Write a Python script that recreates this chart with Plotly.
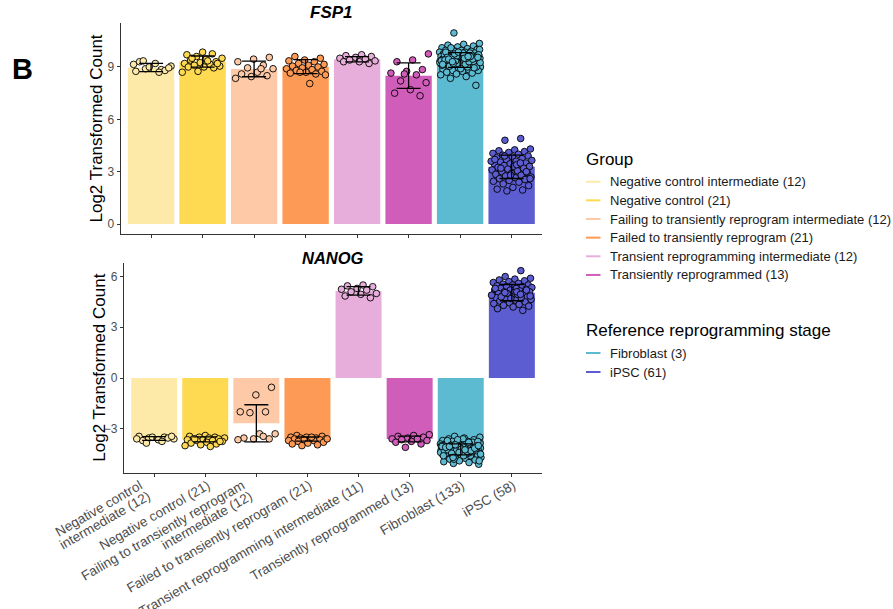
import plotly.graph_objects as go

# ---- categories -------------------------------------------------------------
groups = [
    "Negative control intermediate (12)",
    "Negative control (21)",
    "Failing to transiently reprogram intermediate (12)",
    "Failed to transiently reprogram (21)",
    "Transient reprogramming intermediate (12)",
    "Transiently reprogrammed (13)",
]
stages = ["Fibroblast (3)", "iPSC (61)"]
tick_labels = [
    ["Negative control", "intermediate (12)"],
    ["Negative control (21)"],
    ["Failing to transiently reprogram", "intermediate (12)"],
    ["Failed to transiently reprogram (21)"],
    ["Transient reprogramming intermediate (11)"],
    ["Transiently reprogrammed (13)"],
    ["Fibroblast (133)"],
    ["iPSC (58)"],
]
colors = ["#FEEAA8", "#FED952", "#FEC9A6", "#FD9A55",
          "#E8AEDB", "#D05DB9", "#5CBAD1", "#5D5DD2"]

# ---- FSP1 -------------------------------------------------------------------
fsp1_mean = [8.97, 9.31, 8.89, 9.02, 9.44, 8.50, 9.40, 3.28]
fsp1_sd = [0.24, 0.32, 0.45, 0.40, 0.15, 0.73, 0.42, 0.67]
fsp1_nci = [8.75, 8.85, 8.9, 9.05, 9.2, 9.3, 8.8, 9.0, 9.15, 8.7, 9.35, 8.95]
fsp1_nc = [9.85, 9.7, 9.75, 9.6, 9.5, 9.45, 9.4, 9.3, 9.25, 9.2, 9.15, 9.1,
           9.05, 9.0, 9.0, 8.95, 8.75, 8.7, 9.35, 9.5, 9.2]
fsp1_faili = [9.55, 9.45, 9.3, 9.1, 8.95, 8.9, 8.7, 8.6, 8.5, 8.45, 8.35, 8.9]
fsp1_failed = [9.6, 9.5, 9.4, 9.35, 9.3, 9.2, 9.15, 9.1, 9.05, 9.0, 8.95, 8.9,
               8.85, 8.8, 8.75, 8.7, 8.65, 8.6, 8.7, 8.55, 8.05]
fsp1_tri = [9.7, 9.65, 9.6, 9.55, 9.5, 9.45, 9.4, 9.35, 9.3, 9.3, 9.2]
fsp1_tr = [9.75, 9.4, 9.3, 8.85, 8.75, 8.65, 8.55, 8.2, 8.1, 7.7, 7.5, 7.35, 8.6]
fsp1_fib = [
    10.95, 10.35, 10.3, 10.25, 10.2, 10.15, 10.1, 10.05, 10.0, 10.0,
    9.95, 9.95, 9.9, 9.9, 9.85, 9.85, 9.8, 9.8, 9.8, 9.75,
    9.75, 9.7, 9.7, 9.7, 9.65, 9.65, 9.65, 9.6, 9.6, 9.6,
    9.55, 9.55, 9.55, 9.5, 9.5, 9.5, 9.5, 9.45, 9.45, 9.45,
    9.45, 9.4, 9.4, 9.4, 9.4, 9.35, 9.35, 9.35, 9.35, 9.3,
    9.3, 9.3, 9.3, 9.25, 9.25, 9.25, 9.2, 9.2, 9.2, 9.15,
    9.15, 9.15, 9.1, 9.1, 9.1, 9.05, 9.05, 9.0, 9.0, 9.0,
    8.95, 8.95, 8.9, 8.9, 8.85, 8.85, 8.8, 8.8, 8.75, 8.7,
    8.65, 8.6, 8.55, 8.45, 8.35, 7.95, 9.6, 9.7, 9.8, 9.9,
    10.0, 9.5, 9.4, 9.3, 9.2, 9.1, 9.0, 9.55, 9.65, 9.75,
    9.85, 9.45, 9.35, 9.25, 9.15, 9.05, 9.5, 9.6, 9.4, 9.3,
    9.2, 9.7, 9.8, 9.55, 9.45, 9.65, 9.35, 9.5, 10.1, 9.0,
    8.9, 9.4, 9.6, 9.75, 9.25, 9.5, 9.45, 8.95, 9.85, 9.15,
    9.6, 9.3, 9.55,
]
fsp1_ipsc = [
    4.9, 4.8, 4.3, 4.25, 4.2, 4.15, 4.1, 4.05, 4.0, 3.95,
    3.9, 3.85, 3.8, 3.75, 3.7, 3.65, 3.6, 3.55, 3.5, 3.45,
    3.45, 3.4, 3.35, 3.3, 3.3, 3.25, 3.2, 3.15, 3.1, 3.05,
    3.0, 2.95, 2.9, 2.85, 2.8, 2.75, 2.7, 2.65, 2.6, 2.55,
    2.5, 2.45, 2.4, 2.3, 2.2, 2.1, 2.0, 1.95, 1.9, 3.6,
    3.4, 3.2, 3.0, 2.8, 3.7, 3.5, 3.9, 2.6,
]

# ---- NANOG ------------------------------------------------------------------
nanog_mean = [-3.58, -3.63, -2.68, -3.61, 5.15, -3.61, -4.22, 5.05]
nanog_sd = [0.11, 0.15, 1.10, 0.12, 0.25, 0.17, 0.33, 0.48]
nanog_nci = [-3.45, -3.5, -3.55, -3.6, -3.65, -3.7, -3.55, -3.5, -3.6, -3.75,
             -3.85, -3.45]
nanog_nc = [-3.4, -3.45, -3.5, -3.5, -3.55, -3.55, -3.6, -3.6, -3.65, -3.65,
            -3.7, -3.7, -3.75, -3.8, -3.85, -3.9, -3.95, -4.0, -4.05, -3.6,
            -3.75]
nanog_faili = [-0.55, -1.0, -2.0, -2.0, -2.05, -3.3, -3.3, -3.55, -3.6, -3.6,
               -3.65, -3.45]
nanog_failed = [-3.4, -3.45, -3.5, -3.5, -3.55, -3.55, -3.6, -3.6, -3.6,
                -3.65, -3.65, -3.7, -3.7, -3.75, -3.8, -3.85, -3.9, -3.95,
                -4.0, -3.6, -3.5]
nanog_tri = [5.5, 5.45, 5.4, 5.3, 5.25, 5.2, 5.1, 5.0, 4.95, 4.85, 4.75]
nanog_tr = [-3.35, -3.4, -3.45, -3.5, -3.55, -3.6, -3.6, -3.65, -3.7, -3.75,
            -3.8, -3.9, -4.1]
nanog_fib = [
    -3.45, -3.5, -3.55, -3.6, -3.65, -3.7, -3.7, -3.75, -3.75, -3.8,
    -3.8, -3.85, -3.85, -3.9, -3.9, -3.9, -3.95, -3.95, -3.95, -4.0,
    -4.0, -4.0, -4.0, -4.05, -4.05, -4.05, -4.05, -4.1, -4.1, -4.1,
    -4.1, -4.1, -4.15, -4.15, -4.15, -4.15, -4.2, -4.2, -4.2, -4.2,
    -4.2, -4.25, -4.25, -4.25, -4.25, -4.3, -4.3, -4.3, -4.3, -4.35,
    -4.35, -4.35, -4.35, -4.4, -4.4, -4.4, -4.45, -4.45, -4.45, -4.5,
    -4.5, -4.5, -4.55, -4.55, -4.6, -4.6, -4.65, -4.65, -4.7, -4.7,
    -4.75, -4.8, -4.85, -4.9, -4.95, -5.0, -5.05, -5.1, -3.6, -3.7,
    -3.8, -3.9, -4.0, -4.1, -4.2, -4.3, -4.4, -4.5, -4.6, -4.7,
    -3.85, -3.95, -4.05, -4.15, -4.25, -4.35, -4.45, -4.55, -3.75, -4.0,
    -4.1, -4.2, -4.3, -4.4, -4.5, -4.0, -4.2, -4.1, -4.3, -3.9,
    -4.8, -4.9, -4.6, -4.25, -4.15, -3.65, -4.05, -4.35, -4.45, -4.0,
    -4.2, -4.1, -4.3, -3.95, -4.5, -4.25, -4.05, -4.15, -4.4, -4.6,
    -3.8, -4.7, -4.0,
]
nanog_ipsc = [
    6.35, 6.0, 5.9, 5.85, 5.8, 5.75, 5.7, 5.65, 5.6, 5.55,
    5.5, 5.5, 5.45, 5.4, 5.4, 5.35, 5.3, 5.3, 5.25, 5.2,
    5.2, 5.15, 5.1, 5.1, 5.05, 5.0, 5.0, 4.95, 4.9, 4.9,
    4.85, 4.8, 4.8, 4.75, 4.7, 4.7, 4.65, 4.6, 4.55, 4.5,
    4.45, 4.4, 4.35, 4.3, 4.25, 4.2, 4.1, 4.0, 5.0, 4.9,
    5.1, 4.8, 5.2, 4.7, 5.3, 4.95, 5.05, 4.85,
]

fsp1_points = [fsp1_nci, fsp1_nc, fsp1_faili, fsp1_failed,
               fsp1_tri, fsp1_tr, fsp1_fib, fsp1_ipsc]
nanog_points = [nanog_nci, nanog_nc, nanog_faili, nanog_failed,
                nanog_tri, nanog_tr, nanog_fib, nanog_ipsc]

FONT = "Liberation Sans, Arial, Helvetica, sans-serif"
W, H = 893, 609
cat_pos = list(range(len(tick_labels)))
JITTER = 0.4  # half-width of the horizontal point spread, in category units


def jitter_xy(point_sets):
    """Spread each group's points horizontally with a fixed
    low-discrepancy sequence so the strip is reproducible."""
    xs, ys, cs = [], [], []
    for i, vals in enumerate(point_sets):
        for k, v in enumerate(vals):
            frac = (k * 0.6180339887 + 0.37 * i + 0.13) % 1.0
            xs.append(i + (2 * frac - 1) * JITTER)
            ys.append(v)
            cs.append(colors[i])
    return xs, ys, cs


fig = go.Figure()

for means, sds, pts, xa, ya in [
    (fsp1_mean, fsp1_sd, fsp1_points, "x", "y"),
    (nanog_mean, nanog_sd, nanog_points, "x2", "y2"),
]:
    # bars of the group means
    fig.add_trace(go.Bar(
        x=cat_pos, y=means, width=0.9, xaxis=xa, yaxis=ya,
        marker=dict(color=colors, line=dict(width=0)),
        showlegend=False, hoverinfo="skip",
    ))
    # individual samples
    jx, jy, jc = jitter_xy(pts)
    fig.add_trace(go.Scatter(
        x=jx, y=jy, mode="markers", xaxis=xa, yaxis=ya,
        marker=dict(size=6.6, color=jc, line=dict(color="black", width=0.9)),
        showlegend=False, hoverinfo="skip",
    ))
    # mean +/- SD whiskers drawn above the points
    fig.add_trace(go.Scatter(
        x=cat_pos, y=means, mode="markers", xaxis=xa, yaxis=ya,
        marker=dict(size=1, color="rgba(0,0,0,0)"),
        error_y=dict(type="data", array=sds, color="black",
                     thickness=1.3, width=12),
        showlegend=False, hoverinfo="skip",
    ))

# panel geometry (pixels)
top_l, top_r, top_t, top_b = 120.7, 542.0, 23.0, 234.0
bot_l, bot_r, bot_t, bot_b = 124.0, 542.0, 262.7, 472.7


def px_x(p):
    return p / W


def px_y(p):
    return 1 - p / H


axis_common = dict(
    showline=True, linecolor="#333333", linewidth=1.1,
    showgrid=False, zeroline=False,
    ticks="outside", ticklen=3, tickcolor="#333333", tickwidth=1.1,
    tickfont=dict(family=FONT, size=12, color="#4D4D4D"),
    automargin=False, fixedrange=True,
)

fig.update_layout(
    width=W, height=H,
    margin=dict(l=0, r=0, t=0, b=0),
    paper_bgcolor="white", plot_bgcolor="white",
    barmode="overlay",
    xaxis=dict(domain=[px_x(top_l), px_x(top_r)], anchor="y",
               range=[-0.59, 7.59], tickvals=cat_pos,
               showticklabels=False, **axis_common),
    yaxis=dict(domain=[px_y(top_b), px_y(top_t)], anchor="x",
               range=[-0.57, 11.52], tickvals=[0, 3, 6, 9], **axis_common),
    xaxis2=dict(domain=[px_x(bot_l), px_x(bot_r)], anchor="y2",
                range=[-0.59, 7.59], tickvals=cat_pos,
                showticklabels=False, **axis_common),
    yaxis2=dict(domain=[px_y(bot_b), px_y(bot_t)], anchor="x2",
                range=[-5.6, 6.82], tickvals=[-3, 0, 3, 6], **axis_common),
)

ann = []
# panel titles
ann.append(dict(text="<b><i>FSP1</i></b>", x=px_x((top_l + top_r) / 2),
                y=px_y(13), xref="paper", yref="paper", showarrow=False,
                xanchor="center", yanchor="middle",
                font=dict(family=FONT, size=17, color="black")))
ann.append(dict(text="<b><i>NANOG</i></b>", x=px_x((bot_l + bot_r) / 2),
                y=px_y(258), xref="paper", yref="paper", showarrow=False,
                xanchor="center", yanchor="middle",
                font=dict(family=FONT, size=16.5, color="black")))
# y-axis titles
for cx, cy in [(96, (top_t + top_b) / 2), (100, (bot_t + bot_b) / 2)]:
    ann.append(dict(text="Log2 Transformed Count", textangle=-90,
                    x=px_x(cx), y=px_y(cy), xref="paper", yref="paper",
                    showarrow=False, xanchor="center", yanchor="middle",
                    font=dict(family=FONT, size=17, color="black")))
# panel letter
ann.append(dict(text="<b>B</b>", x=px_x(22), y=px_y(69), xref="paper",
                yref="paper", showarrow=False, xanchor="center",
                yanchor="middle",
                font=dict(family=FONT, size=29, color="black")))

# rotated category labels, right-aligned at each tick (tight line spacing)
for i, lines in enumerate(tick_labels):
    for j, line in enumerate(lines):
        if len(lines) == 1:
            dx, dy = 7.0, 4.9
        else:
            dx, dy = (-9.0, 4.9) if j == 0 else (-1.5, 15.9)
        ann.append(dict(text=line, x=i, xref="x2", y=px_y(bot_b),
                        yref="paper", xshift=dx, yshift=-dy,
                        textangle=-30, showarrow=False,
                        xanchor="right", yanchor="top",
                        borderpad=0, borderwidth=0,
                        font=dict(family=FONT, size=13.5, color="#4D4D4D")))

# legend blocks (titles, line keys, labels)
shapes = []
legend_blocks = [
    ("Group", 159, groups, colors[:6], [181.7 + 18.65 * k for k in range(6)]),
    ("Reference reprogramming stage", 330, stages, colors[6:], [353, 372]),
]
for title, ty, labels, cols, ys in legend_blocks:
    ann.append(dict(text=title, x=px_x(584), y=px_y(ty), xref="paper",
                    yref="paper", showarrow=False, xanchor="left",
                    yanchor="middle",
                    font=dict(family=FONT, size=17, color="black")))
    for lab, col, yy in zip(labels, cols, ys):
        shapes.append(dict(type="line", xref="paper", yref="paper",
                           x0=px_x(586), x1=px_x(600.5),
                           y0=px_y(yy), y1=px_y(yy),
                           line=dict(color=col, width=2)))
        ann.append(dict(text=lab, x=px_x(607.5), y=px_y(yy), xref="paper",
                        yref="paper", showarrow=False, xanchor="left",
                        yanchor="middle",
                        font=dict(family=FONT, size=13, color="#1A1A1A")))

fig.update_layout(annotations=ann, shapes=shapes)

fig.write_html("out.html")
